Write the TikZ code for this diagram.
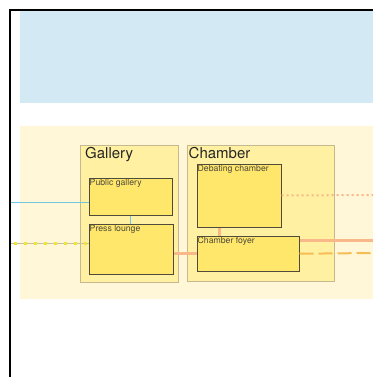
\documentclass[tikz,border=0pt]{standalone}
\usepackage{fontspec}
\setmainfont{TeX Gyre Heros}
\usetikzlibrary{positioning}
\definecolor{skyfill}{HTML}{D3EAF5}
\definecolor{sandfill}{HTML}{FFF7D7}
\definecolor{zonefill}{HTML}{FFF0A2}
\definecolor{zoneline}{HTML}{C6B990}
\definecolor{roomfill}{HTML}{FFE76C}
\definecolor{roomline}{HTML}{4F4A3C}
\definecolor{bluelink}{HTML}{72C6DF}
\definecolor{salmon}{HTML}{F8B889}
\definecolor{amber}{HTML}{F6BC55}
\definecolor{dotyellow}{HTML}{F2E530}
\definecolor{greyline}{HTML}{C9C2A2}
\tikzset{
  zone/.style={draw=zoneline, fill=zonefill, line width=0.9pt, anchor=north west, inner sep=0pt},
  zonename/.style={anchor=north west, inner sep=1pt, label distance=0pt, yshift=-1.5pt, xshift=0.5pt, font=\fontsize{15}{17}\selectfont, text=black!85},
  room/.style={draw=roomline, fill=roomfill, line width=1pt, anchor=north west, inner sep=0pt},
  roomname/.style={anchor=north west, inner sep=1pt, label distance=0pt, font=\fontsize{8.7}{10}\selectfont, text=roomline},
  bluewire/.style={bluelink, line width=1.3pt},
  hotwire/.style={salmon, line width=3pt},
}
\begin{document}
\begin{tikzpicture}[x=1pt,y=-1pt]
\useasboundingbox (0,0) rectangle (373,377);
% bands
\fill[skyfill] (20,10) rectangle (373,103);
\fill[sandfill] (20,125.5) rectangle (373,298.5);
% zones
\node[zone, minimum width=98, minimum height=137,
  label={[zonename, xshift=4pt]north west:Gallery}] (gallery) at (79.5,144.5) {};
\node[zone, minimum width=146.5, minimum height=136.5,
  label={[zonename]north west:Chamber}] (chamber) at (187,144.5) {};
% rooms
\node[room, minimum width=83, minimum height=37,
  label={[roomname]north west:Public gallery}] (pubgal) at (88.5,177.5) {};
\node[room, minimum width=84, minimum height=50.5,
  label={[roomname]north west:Press lounge}] (press) at (88.5,223.5) {};
\node[room, minimum width=84, minimum height=63,
  label={[roomname]north west:Debating chamber}] (debate) at (196.5,163.5) {};
\node[room, minimum width=102, minimum height=35.5,
  label={[roomname]north west:Chamber foyer}] (foyer) at (196.5,235.5) {};
% links
\coordinate (bluein) at (10,202.5);
\coordinate (dotin) at (10,243.5);
\coordinate (debout) at (373,195);
\coordinate (foyout) at (373,240);
\coordinate (dashout) at (373,253);
\draw[bluewire] (bluein) -- (bluein -| pubgal.west);
\draw[bluewire] (pubgal.south) -- (pubgal.south |- press.north);
\draw[greyline, line width=0.8pt] (dotin) -- (dotin -| press.west);
\draw[dotyellow, line width=2.6pt, dash pattern=on 2.6pt off 7.4pt, dash phase=-4pt]
  (dotin) -- (dotin -| press.west);
\draw[hotwire] (foyer.west -| press.east) -- (foyer.west);
\draw[hotwire] ([xshift=23pt]debate.south west) -- ([xshift=23pt]foyer.north west);
\draw[salmon, line width=2pt, dash pattern=on 2pt off 3pt] (debate.east) -- (debout);
\draw[hotwire] (foyer.east |- foyout) -- (foyout);
\draw[amber, line width=2pt, dash pattern=on 14pt off 5pt] (foyer.east) -- (dashout);
% frame
\draw[line width=2pt] (373,10) -- (10,10) -- (10,377);
\end{tikzpicture}
\end{document}
